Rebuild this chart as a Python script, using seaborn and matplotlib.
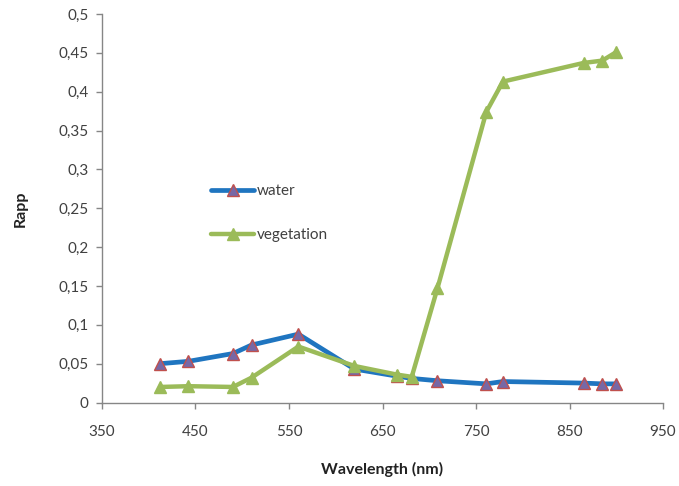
import matplotlib
matplotlib.use("Agg")
import matplotlib.pyplot as plt
import seaborn as sns
import pandas as pd

# ---- data ----
wavelength = [412.5, 442.5, 490, 510, 560, 620, 665, 681.25, 708.75, 761, 778.75, 865, 885, 900]
water = [0.050, 0.053, 0.063, 0.074, 0.088, 0.043, 0.034, 0.031, 0.028, 0.024, 0.027, 0.025, 0.024, 0.024]
vegetation = [0.020, 0.021, 0.020, 0.032, 0.072, 0.047, 0.036, 0.033, 0.147, 0.374, 0.413, 0.437, 0.440, 0.451]

x_ticks = [350, 450, 550, 650, 750, 850, 950]
y_ticks = [0, 0.05, 0.1, 0.15, 0.2, 0.25, 0.3, 0.35, 0.4, 0.45, 0.5]
y_tick_labels = ["0", "0,05", "0,1", "0,15", "0,2", "0,25", "0,3", "0,35", "0,4", "0,45", "0,5"]

sns.set_theme(style="white")
plt.rcParams["font.family"] = ["Lato", "DejaVu Sans"]

fig = plt.figure(figsize=(6.79, 4.86), dpi=100)
ax = fig.add_axes([0.1502, 0.1718, 0.8263, 0.7994])

sns.lineplot(x=wavelength, y=water, ax=ax, color="#1f75c0", linewidth=3.4,
             marker="^", markersize=9, markerfacecolor="#7768a6",
             markeredgecolor="#c0504d", markeredgewidth=1.0, label="water",
             sort=False, zorder=3)
sns.lineplot(x=wavelength, y=vegetation, ax=ax, color="#9bbb59", linewidth=3.2,
             marker="^", markersize=9, markerfacecolor="#9bbb59",
             markeredgecolor="#9bbb59", markeredgewidth=1.0, label="vegetation",
             sort=False, zorder=4)

ax.set_xlim(350, 950)
ax.set_ylim(0, 0.5)
ax.set_xticks(x_ticks)
ax.set_xticklabels([str(v) for v in x_ticks])
ax.set_yticks(y_ticks)
ax.set_yticklabels(y_tick_labels)

for s in ["top", "right"]:
    ax.spines[s].set_visible(False)
for s in ["left", "bottom"]:
    ax.spines[s].set_color("#868686")
    ax.spines[s].set_linewidth(1.0)

ax.tick_params(axis="both", which="major", direction="out", length=4.5, width=1.0,
               color="#868686", labelsize=11, labelcolor="#404040", pad=5,
               left=True, bottom=True)
ax.tick_params(axis="x", pad=12)

ax.set_xlabel("Wavelength (nm)", fontsize=11.5, fontweight="bold", color="#222222", labelpad=16)
ax.set_ylabel("Rapp", fontsize=11.5, fontweight="bold", color="#222222", labelpad=22)

ax.grid(False)
leg = ax.legend(loc="upper left", bbox_to_anchor=(0.195, 0.562), frameon=False,
                fontsize=11, handlelength=2.8, handletextpad=0.2, labelspacing=1.95,
                borderpad=0, borderaxespad=0)
for t in leg.get_texts():
    t.set_color("#404040")

fig.savefig("out.png", dpi=100, facecolor="white")
